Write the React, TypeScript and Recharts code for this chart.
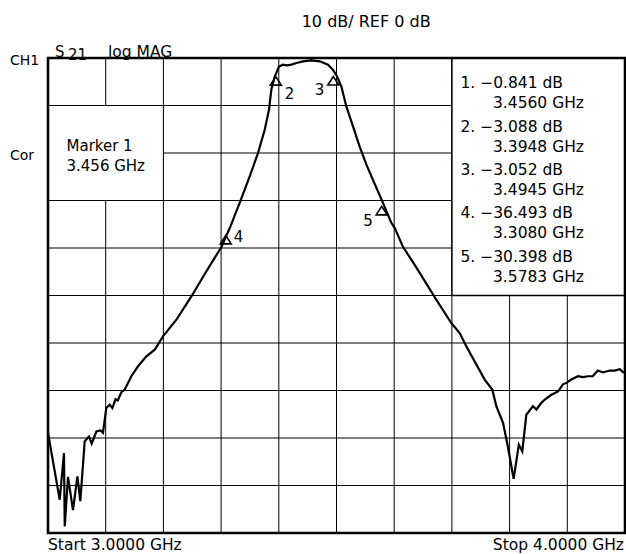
import React from 'react'
import { ComposedChart, Line, Scatter, XAxis, YAxis, CartesianGrid, ReferenceArea } from 'recharts'

// S21 trace (GHz, dB)
const freqGHz = [
  3.0, 3.0203, 3.0277, 3.029, 3.0347, 3.0433, 3.051, 3.056, 3.0636, 3.071,
  3.0757, 3.0839, 3.091, 3.0953, 3.101, 3.107, 3.1116, 3.117, 3.121, 3.127,
  3.133, 3.1445, 3.156, 3.1705, 3.185, 3.1993, 3.2225, 3.2485, 3.2745, 3.3005,
  3.315, 3.3322, 3.3496, 3.364, 3.3756, 3.383, 3.387, 3.393, 3.4003, 3.4073,
  3.414, 3.422, 3.4305, 3.442, 3.4565, 3.471, 3.4853, 3.494, 3.501, 3.5085,
  3.517, 3.5286, 3.54, 3.552, 3.563, 3.578, 3.595, 3.601, 3.615, 3.641,
  3.673, 3.699, 3.7135, 3.725, 3.7395, 3.7568, 3.77, 3.777, 3.7886, 3.797,
  3.807, 3.816, 3.822, 3.829, 3.8405, 3.8465, 3.855, 3.861, 3.8724, 3.884,
  3.8925, 3.8984, 3.907, 3.9186, 3.927, 3.936, 3.944, 3.953, 3.962, 3.9735,
  3.982, 3.991, 3.998,
]
const s21Db = [
  -78.9, -93.0, -83.2, -98.6, -88.2, -95.2, -88.1, -93.3, -80.7, -79.7,
  -81.2, -78.6, -78.4, -78.9, -73.7, -73.0, -73.7, -71.8, -72.1, -70.4,
  -69.8, -67.0, -64.9, -62.8, -61.4, -58.6, -55.1, -50.2, -44.9, -39.8,
  -35.8, -30.5, -24.9, -20.0, -15.1, -10.9, -6.7, -3.9, -1.8, -1.4,
  -1.55, -1.4, -1.05, -0.7, -0.5, -0.7, -1.4, -2.5, -3.9, -6.0,
  -10.2, -14.4, -18.6, -22.5, -25.6, -29.8, -34.7, -35.8, -39.7, -44.6,
  -50.9, -55.8, -57.9, -60.7, -63.9, -67.7, -69.8, -73.3, -76.8, -81.8,
  -88.6, -81.4, -82.8, -75.1, -73.3, -74.0, -72.6, -71.9, -70.9, -70.2,
  -68.7, -68.4, -67.7, -67.0, -67.2, -67.0, -67.0, -65.8, -66.2, -65.8,
  -65.8, -65.5, -66.3,
]

const markerNo = [1, 2, 3, 4, 5]
const markerFreq = [3.456, 3.3948, 3.4945, 3.308, 3.5783]
const markerDb = [-0.841, -3.088, -3.052, -36.493, -30.398]

const freqTicks = [3.0, 3.1, 3.2, 3.3, 3.4, 3.5, 3.6, 3.7, 3.8, 3.9, 4.0]
const dbTicks = [-100, -90, -80, -70, -60, -50, -40, -30, -20, -10, 0]

const trace = freqGHz.map((f, i) => ({ f, db: s21Db[i] }))
const markers = markerNo.map((n, i) => ({ f: markerFreq[i], db: markerDb[i], n }))

const FONT = '"DejaVu Sans", Verdana, sans-serif'
const minus = (v: number, d: number) => v.toFixed(d).replace('-', '\u2212')

// where each marker number sits relative to its triangle
const labelAt: Record<number, { dx: number; dy: number; anchor: 'start' | 'end' | 'middle' }> = {
  1: { dx: 0, dy: -17, anchor: 'middle' },
  2: { dx: 9, dy: 26, anchor: 'start' },
  3: { dx: -9, dy: 23, anchor: 'end' },
  4: { dx: 8, dy: 11, anchor: 'start' },
  5: { dx: -9, dy: 24, anchor: 'end' },
}

const MarkerShape = (props: any) => {
  const { cx, cy, payload } = props
  if (cx == null || cy == null) return null
  const n = payload.n
  const lp = labelAt[n]
  let tri: string
  if (n === 1) {
    const t = cy - 3
    tri = `${cx},${t} ${cx - 6.5},${t - 9} ${cx + 6.5},${t - 9}`
  } else {
    const a = cy + 4
    tri = `${cx},${a} ${cx - 5.5},${a + 8.5} ${cx + 5.5},${a + 8.5}`
  }
  return (
    <g>
      <polygon points={tri} fill="none" stroke="#000" strokeWidth={1.6} />
      <text x={cx + lp.dx} y={cy + lp.dy} textAnchor={lp.anchor} fontSize={15} fontFamily={FONT} fill="#000">
        {n}
      </text>
    </g>
  )
}

export default function App() {
  const txt = { fontFamily: FONT, fill: '#000' }
  return (
    <div style={{ position: 'absolute', left: 0, top: 0, width: 626, height: 554, background: '#fff' }}>
      <ComposedChart
        width={626}
        height={554}
        data={trace}
        margin={{ top: 58, right: 1, bottom: 21, left: 48 }}
      >
        <XAxis type="number" dataKey="f" domain={[3, 4]} ticks={freqTicks} allowDataOverflow hide />
        <YAxis type="number" dataKey="db" domain={[-100, 0]} ticks={dbTicks} allowDataOverflow hide />
        <CartesianGrid stroke="#000" strokeWidth={1} />
        <ReferenceArea x1={3} x2={3.2} y1={-30} y2={-10} fill="#fff" fillOpacity={1} stroke="#000" strokeWidth={1} />
        <ReferenceArea x1={3.7} x2={4} y1={-50} y2={0} fill="#fff" fillOpacity={1} stroke="#000" strokeWidth={1.5} />
        <ReferenceArea x1={3} x2={4} y1={-100} y2={0} fill="none" stroke="#000" strokeWidth={2.6} />
        <Line
          type="linear"
          dataKey="db"
          stroke="#000"
          strokeWidth={2.2}
          dot={false}
          isAnimationActive={false}
        />
        <Scatter data={markers} dataKey="db" shape={MarkerShape} isAnimationActive={false} />
      </ComposedChart>

      <svg width={626} height={554} style={{ position: 'absolute', left: 0, top: 0, pointerEvents: 'none' }}>
        <text x={301.7} y={26.5} fontSize={16} {...txt}>10 dB/ REF 0 dB</text>
        <text x={10} y={65} fontSize={14} {...txt}>CH1</text>
        <text x={10} y={160} fontSize={14} {...txt}>Cor</text>
        <text x={55} y={56.5} fontSize={15} {...txt}>S</text>
        <text x={68} y={60} fontSize={15} {...txt}>21</text>
        <text x={108} y={56.5} fontSize={15.5} {...txt}>log MAG</text>

        <text x={66.5} y={151} fontSize={15} {...txt}>Marker 1</text>
        <text x={66.5} y={171} fontSize={15} {...txt}>{markerFreq[0].toFixed(3)} GHz</text>

        {markers.map((m, i) => (
          <g key={m.n}>
            <text x={460.5} y={88.3 + i * 43.35} fontSize={15.5} {...txt}>
              {`${m.n}. ${minus(m.db, 3)} dB`}
            </text>
            <text x={493} y={108.3 + i * 43.35} fontSize={15.5} {...txt}>
              {`${m.f.toFixed(4)} GHz`}
            </text>
          </g>
        ))}

        <text x={48} y={549.5} fontSize={15.5} {...txt}>Start 3.0000 GHz</text>
        <text x={624} y={549.5} fontSize={15.5} textAnchor="end" {...txt}>Stop 4.0000 GHz</text>
      </svg>
    </div>
  )
}
